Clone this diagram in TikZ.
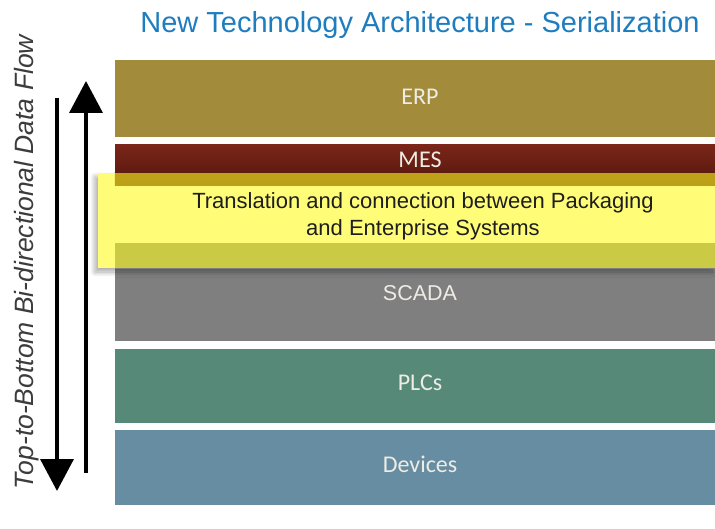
\documentclass[tikz,border=0pt]{standalone}
\usepackage{fontspec}
\setmainfont{Liberation Sans}
\newfontfamily\lblfont{Carlito}
\usetikzlibrary{arrows.meta,shadows.blur}
\definecolor{titleblue}{RGB}{30,125,190}
\definecolor{erpcol}{RGB}{162,139,58}
\definecolor{mestop}{RGB}{122,38,24}
\definecolor{mesbot}{RGB}{84,22,14}
\definecolor{scadacol}{RGB}{127,127,127}
\definecolor{plccol}{RGB}{86,137,120}
\definecolor{devcol}{RGB}{103,141,163}
\definecolor{hiyellow}{RGB}{255,252,30}
\definecolor{lbltext}{RGB}{238,236,228}
\definecolor{sidetext}{RGB}{60,60,60}
\tikzset{
  band/.style={rectangle, draw=none, inner sep=0pt, minimum width=600pt},
  lbl/.style={font=\lblfont\fontsize{24}{28}\selectfont, text=lbltext, inner sep=0pt},
  flowarrow/.style={line width=3.6pt, -{Triangle[length=32pt,width=33pt]}, black},
  hibox/.style={rectangle, draw=none, minimum width=617pt, minimum height=95pt, inner sep=0pt},
}
\begin{document}
\begin{tikzpicture}[x=1pt,y=-1pt]
\useasboundingbox (0,0) rectangle (715,529);
% title
\node[font=\fontsize{29}{34}\selectfont, text=titleblue, inner sep=0pt] (title) at (420,25) {New Technology Architecture - Serialization};
% bands
\node[band, fill=erpcol, minimum height=77pt] (erp) at (415,98.5) {};
\node[band, top color=mestop, bottom color=mesbot, minimum height=40pt] (mes) at (415,165) {};
\node[band, fill=scadacol, minimum height=98pt] (scada) at (415,292) {};
\node[band, fill=plccol, minimum height=74pt] (plc) at (415,386) {};
\node[band, fill=devcol, minimum height=75pt] (dev) at (415,467.5) {};
% band labels
\node[lbl] (erplbl) at (420,97) {ERP};
\node[lbl] (meslbl) at (420,160) {MES};
\node[lbl, font=\fontsize{21.5}{25}\selectfont] (scadalbl) at (420,293) {SCADA};
\node[lbl] (plclbl) at (420,383) {PLCs};
\node[lbl] (devlbl) at (420,464) {Devices};
% highlight box: shadow, then the bands seen through it, then translucent yellow
\node[hibox, fill=white,
      blur shadow={shadow xshift=-3pt, shadow yshift=-4pt, shadow blur radius=5pt, shadow blur steps=10, shadow opacity=35}] (hishadow) at (406.5,220.5) {};
\begin{scope}
  \clip (hishadow.north west) rectangle (hishadow.south east);
  \fill[top color=mestop, bottom color=mesbot] (mes.north west) rectangle (mes.south east);
  \fill[scadacol] (scada.north west) rectangle (scada.south east);
\end{scope}
\node[hibox, fill=hiyellow, fill opacity=0.6] (hi) at (406.5,220.5) {};
\node[align=center, font=\fontsize{22}{27}\selectfont, text={rgb,255:red,30;green,30;blue,30}, inner sep=0pt] (hitext) at (423,216.5) {Translation and connection between Packaging\\and Enterprise Systems};
% side text
\node[rotate=90, anchor=base, font=\itshape\fontsize{26.5}{30}\selectfont, text=sidetext, inner sep=0pt] (side) at (33,262) {Top-to-Bottom Bi-directional Data Flow};
% arrows
\coordinate (dstart) at (57,98);
\coordinate (dend) at (57,491);
\coordinate (ustart) at (86,473);
\coordinate (uend) at (86,81);
\draw[flowarrow] (dstart) -- (dend);
\draw[flowarrow] (ustart) -- (uend);
\end{tikzpicture}
\end{document}
